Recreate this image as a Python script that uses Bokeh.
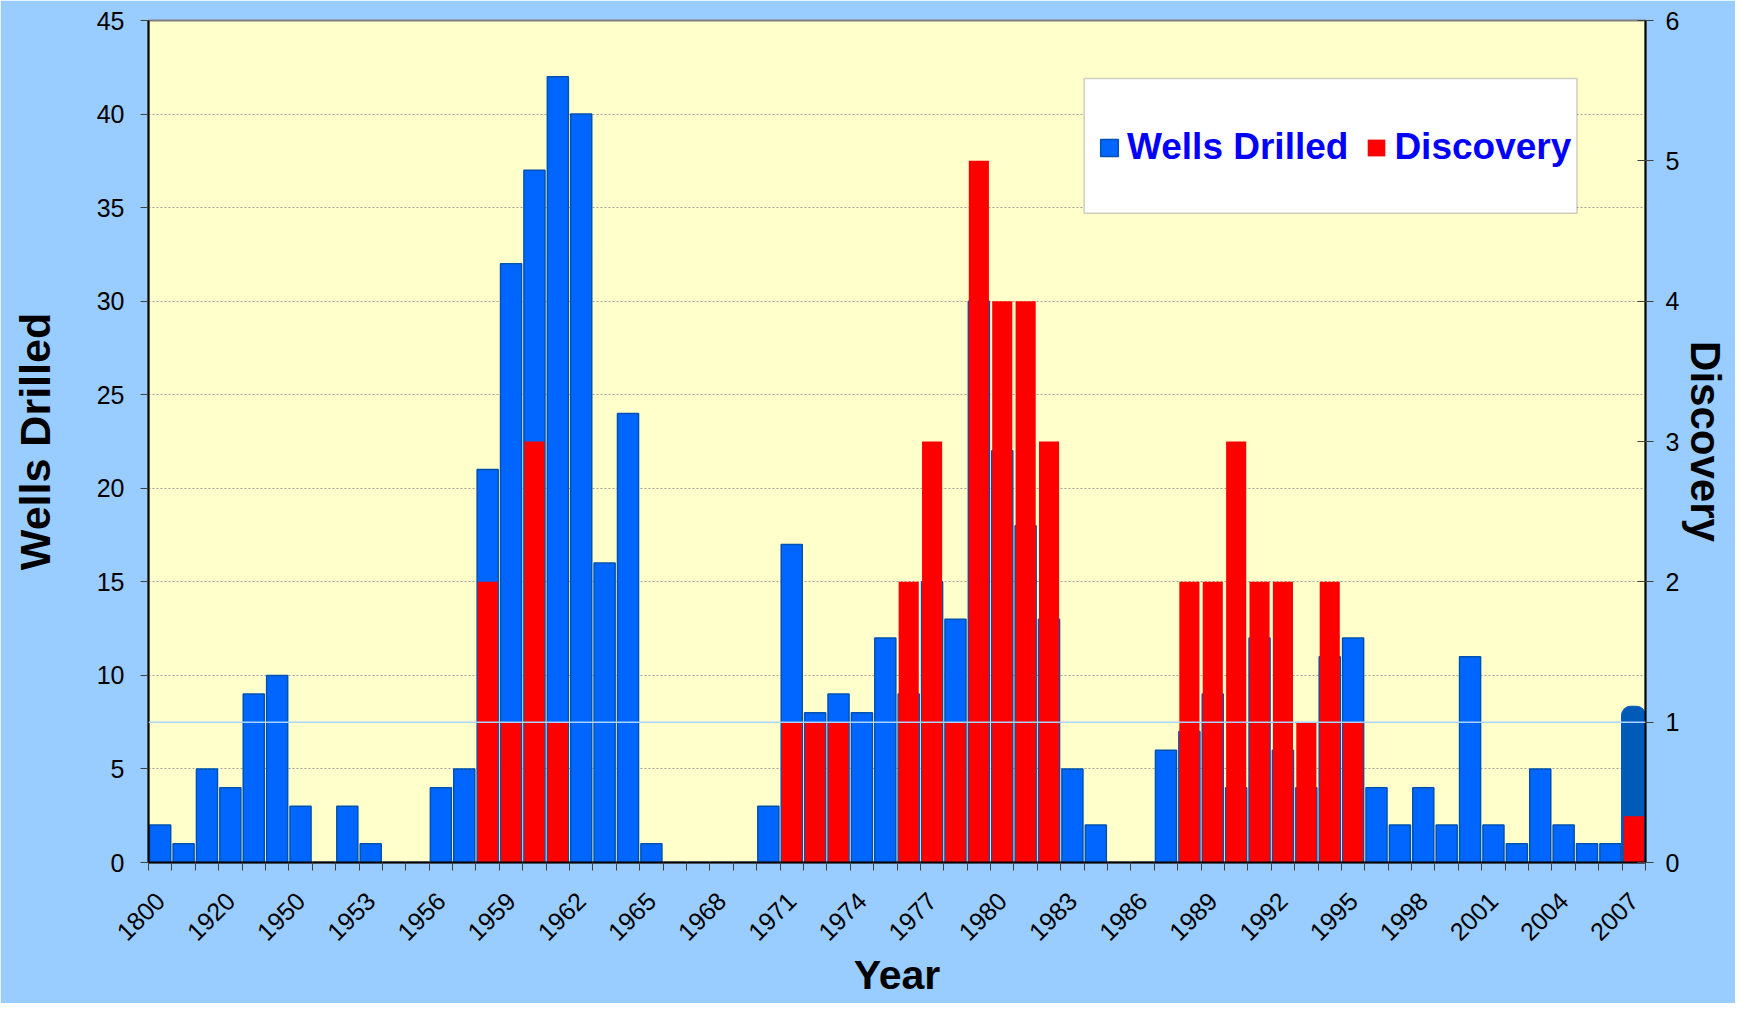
import math
import numpy as np
from bokeh.plotting import figure
from bokeh.models import (Range1d, LinearAxis, FixedTicker, Span, Legend,
                          LegendItem, BoxAnnotation, ColumnDataSource)
from bokeh.embed import file_html
from bokeh.resources import INLINE

# ---------------- data ----------------
years = ["1800", "1900", "1910", "1920", "1930", "1940"] + [str(y) for y in range(1950, 2008)]

wells = [2, 1, 5, 4, 9, 10,                      # 1800-1940
         3, 0, 3, 1, 0, 0, 4, 5, 21, 32,         # 1950-1959
         37, 42, 40, 16, 24, 1, 0, 0, 0, 0,      # 1960-1969
         3, 17, 8, 9, 8, 12, 9, 15, 13, 30,      # 1970-1979
         22, 18, 13, 5, 2, 0, 0, 6, 7, 9,        # 1980-1989
         4, 12, 6, 4, 11, 12, 4, 2, 4, 2,        # 1990-1999
         11, 2, 1, 5, 2, 1, 1, 8.35]             # 2000-2007

discovery = [0, 0, 0, 0, 0, 0,                   # 1800-1940
             0, 0, 0, 0, 0, 0, 0, 0, 2, 1,       # 1950-1959
             3, 1, 0, 0, 0, 0, 0, 0, 0, 0,       # 1960-1969
             0, 1, 1, 1, 0, 0, 2, 3, 1, 5,       # 1970-1979
             4, 4, 3, 0, 0, 0, 0, 0, 2, 2,       # 1980-1989
             3, 2, 2, 1, 2, 1, 0, 0, 0, 0,       # 1990-1999
             0, 0, 0, 0, 0, 0, 0, 0.33]          # 2000-2007

left_ticks = [0, 5, 10, 15, 20, 25, 30, 35, 40, 45]
right_ticks = [0, 1, 2, 3, 4, 5, 6]
label_every = 3

# ---------------- figure ----------------
n = len(years)
xpos = np.arange(n) + 0.5

FONT = "Liberation Sans"

p = figure(width=1735, height=1003,
           x_range=Range1d(0, n), y_range=Range1d(0, 45),
           output_backend="svg", toolbar_location=None,
           min_border_left=148, min_border_right=90,
           min_border_top=20, min_border_bottom=141)

p.border_fill_color = "#99CCFF"
p.background_fill_color = "#FFFFCC"
p.outline_line_color = "#808080"
p.outline_line_width = 2

p.extra_y_ranges = {"disc": Range1d(0, 6)}

# grid
p.xgrid.visible = False
p.ygrid.ticker = FixedTicker(ticks=left_ticks)
p.ygrid.grid_line_color = "#A0A0A0"
p.ygrid.grid_line_dash = "2 2"
p.ygrid.grid_line_width = 1

# bars
src_w = ColumnDataSource(dict(x=xpos[:-1], top=wells[:-1]))
src_last = ColumnDataSource(dict(x=xpos[-1:], top=wells[-1:]))
src_d = ColumnDataSource(dict(x=xpos, top=discovery))

rb = p.vbar(x="x", top="top", width=0.9, bottom=0, source=src_w,
            fill_color="#0066FF", line_color="#0052B0", line_width=1.5)
p.vbar(x="x", top="top", width=1.05, bottom=0, source=src_last,
       fill_color="#005BB8", line_color="#005BB8", line_width=1,
       border_radius=(9, 9, 0, 0))
rr = p.vbar(x="x", top="top", width=0.86, bottom=0, source=src_d,
            y_range_name="disc", fill_color="#FF0000", line_color=None)

# reference line at one discovery
p.add_layout(Span(location=1, dimension="width", y_range_name="disc",
                  line_color="#A8D4FF", line_width=1.5, level="overlay"))

# left axis
ya = p.yaxis[0]
ya.ticker = FixedTicker(ticks=left_ticks)
ya.axis_label = "Wells Drilled"
ya.axis_label_text_font = FONT
ya.axis_label_text_font_style = "bold"
ya.axis_label_text_font_size = "43px"
ya.axis_label_text_color = "black"
ya.axis_label_standoff = 35
ya.major_label_text_font = FONT
ya.major_label_text_font_size = "25px"
ya.major_label_text_color = "black"
ya.major_label_standoff = 16
ya.major_tick_out = 8
ya.major_tick_in = 0
ya.minor_tick_out = 0
ya.minor_tick_in = 0
ya.axis_line_color = "black"
ya.axis_line_width = 2
ya.major_tick_line_color = "#404040"

# right axis
ra = LinearAxis(y_range_name="disc", ticker=FixedTicker(ticks=right_ticks))
ra.axis_label = "Discovery"
ra.axis_label_text_font = FONT
ra.axis_label_text_font_style = "bold"
ra.axis_label_text_font_size = "42px"
ra.axis_label_text_color = "black"
ra.axis_label_standoff = 0
ra.major_label_text_font = FONT
ra.major_label_text_font_size = "25px"
ra.major_label_text_color = "black"
ra.major_label_standoff = 12
ra.major_tick_out = 8
ra.major_tick_in = 8
ra.minor_tick_out = 0
ra.minor_tick_in = 0
ra.axis_line_color = "black"
ra.axis_line_width = 2
ra.major_tick_line_color = "#404040"
p.add_layout(ra, "right")

# bottom axis
xa = p.xaxis[0]
label_idx = list(range(0, n, label_every))
xa.ticker = FixedTicker(ticks=[float(xpos[i]) for i in label_idx],
                        minor_ticks=list(range(0, n + 1)))
xa.major_label_overrides = {float(xpos[i]): years[i] for i in label_idx}
xa.major_label_orientation = math.pi / 4
xa.major_label_text_font = FONT
xa.major_label_text_font_size = "25px"
xa.major_label_text_color = "black"
xa.major_label_standoff = 26
xa.major_tick_out = 0
xa.major_tick_in = 0
xa.minor_tick_out = 8
xa.minor_tick_in = 0
xa.minor_tick_line_color = "#404040"
xa.axis_line_color = "black"
xa.axis_line_width = 2
xa.axis_label = "Year"
xa.axis_label_text_font = FONT
xa.axis_label_text_font_style = "bold"
xa.axis_label_text_font_size = "41px"
xa.axis_label_text_color = "black"
xa.axis_label_standoff = 0

# legend box + legend
p.add_layout(BoxAnnotation(left=40.0, right=61.07, bottom=34.7, top=41.9,
                           fill_color="white", fill_alpha=1.0,
                           line_color="#606060", line_width=1.5))
legend = Legend(items=[LegendItem(label="Wells Drilled", renderers=[rb]),
                       LegendItem(label="Discovery", renderers=[rr])],
                location=(950, 694), orientation="horizontal",
                padding=0, margin=0, spacing=17, label_standoff=7,
                glyph_width=22, glyph_height=21,
                background_fill_alpha=0, border_line_alpha=0,
                label_text_font=FONT, label_text_font_style="bold",
                label_text_font_size="37px", label_text_color="#0000FF")
p.add_layout(legend)

open("out.html", "w").write(file_html(p, INLINE))
